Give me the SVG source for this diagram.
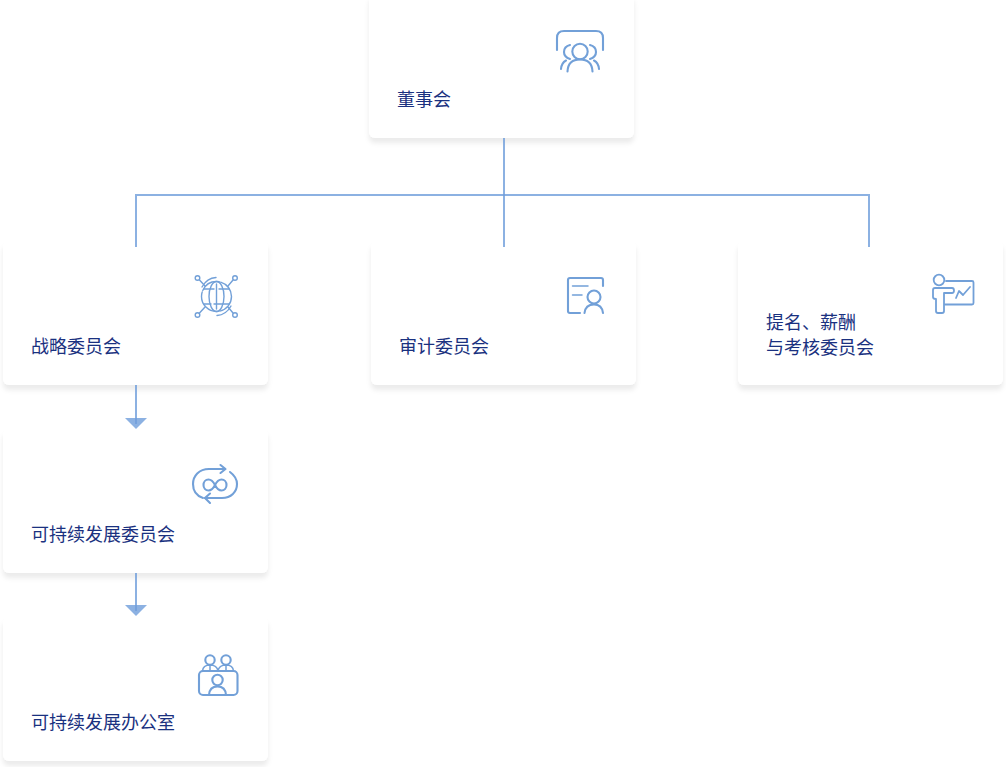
<svg xmlns="http://www.w3.org/2000/svg" width="1006" height="767" viewBox="0 0 1006 767">
<defs>
<filter id="sh" x="-10%" y="-15%" width="120%" height="130%"><feDropShadow dx="0" dy="5" stdDeviation="2.500" flood-color="#000" flood-opacity="0.08"/></filter>
</defs>
<style>
.card{fill:#fff;filter:url(#sh)}
.t{font-family:"Noto Sans CJK SC","Noto Sans",sans-serif;font-size:18px;fill:#1a3180}
.ic{fill:none;stroke:#72a0d8;stroke-width:2.100;stroke-linecap:round;stroke-linejoin:round}
.th{stroke-width:1.400}
.c{fill:none;stroke:#6f9edb;stroke-opacity:.8;stroke-width:2}
.a{fill:#6f9edb;fill-opacity:.8}
</style>
<rect width="1006" height="767" fill="#fff"/>
<g id="node-board">
<rect class="card" x="369" y="-6" width="265" height="144" rx="6"/>
<text class="t" x="397" y="106">董事会</text>
<g class="ic">
<path d="M557 50V38Q557 31 564 31H596Q603 31 603 38V50"/>
<circle cx="580" cy="51.500" r="7.700"/>
<path d="M567.500 71.500Q568 59.500 580 59.500Q592 59.500 592.500 71.500"/>
<path d="M570 45Q564 46.500 564 52Q564 57 570 59M590 45Q596 46.500 596 52Q596 57 590 59"/>
<path d="M561 69Q561.500 63 566 60.500M599 69Q598.500 63 594 60.500"/>
</g>
</g>
<g id="node-strategy">
<rect class="card" x="3" y="241" width="265" height="144" rx="6"/>
<text class="t" x="31" y="353">战略委员会</text>
<g class="ic th">
<circle cx="216.500" cy="296.500" r="15" stroke-dasharray="20 1.500 30 1.500"/>
<ellipse cx="216.500" cy="296.500" rx="7.500" ry="15"/>
<path d="M216.500 284V309M204 289H214M219 289H229M204 304H211M214 304H229"/>
<path d="M202 287Q207 278 216 277.500M231 306Q226 315 217 315.500"/>
<circle cx="197.500" cy="278" r="2.300"/><circle cx="235" cy="278" r="2.300"/><circle cx="197.500" cy="315" r="2.300"/><circle cx="235" cy="315" r="2.300"/>
<path d="M199.500 280L205 286M233 280L228 286M199.500 313L205 307M233 313L228 307"/>
</g>
</g>
<g id="node-audit">
<rect class="card" x="371" y="241" width="265" height="144" rx="6"/>
<text class="t" x="399" y="353">审计委员会</text>
<g class="ic">
<path d="M603 286V280Q603 278 601 278H570Q568 278 568 280V311Q568 313 570 313H580"/>
<path d="M572.500 286H588M572.500 295H582" stroke-width="1.500"/>
<circle cx="594" cy="297" r="6.500"/>
<path d="M584.500 313Q585.500 304.500 594 304.500Q602 304.500 603 313"/>
</g>
</g>
<g id="node-nomination">
<rect class="card" x="738" y="241" width="265" height="144" rx="6"/>
<text class="t" x="766" y="328.500">提名、薪酬</text>
<text class="t" x="766" y="354">与考核委员会</text>
<g class="ic" style="stroke-width:1.800">
<circle cx="939" cy="280" r="5.300"/>
<path d="M946 281H972Q973.500 281 973.500 282.500V303Q973.500 304.500 972 304.500H945"/>
<path d="M952 288H935Q933 288 933 290V297Q933 299 936 299V311Q936 313 938 313H942Q944 313 944 311V293H952Q954 293 954 290.500Q954 288 952 288Z"/>
<path d="M956 298L959 291L963 295L970 287"/>
</g>
</g>
<g id="node-sustain">
<rect class="card" x="3" y="429" width="265" height="144" rx="6"/>
<text class="t" x="31" y="541">可持续发展委员会</text>
<g class="ic">
<path d="M225 469H209C199 469 193 476 193 484C193 491 197 496 203 498"/>
<path d="M230 472C234 475 237 479 237 484C237 492 231 498 222 498H205"/>
<path d="M220.500 465L225.500 469L220.500 473"/>
<path d="M210 493.500L205 498L210 503"/>
<path d="M215 485C213 481 211 479.500 208.500 479.500C205.500 479.500 203.500 482 203.500 485C203.500 488 205.500 490.500 208.500 490.500C211 490.500 213 489 215 485C217 481 219 479.500 221.500 479.500C224.500 479.500 226.500 482 226.500 485C226.500 488 224.500 490.500 221.500 490.500C219 490.500 217 489 215 485Z"/>
</g>
</g>
<g id="node-office">
<rect class="card" x="3" y="617" width="265" height="144" rx="6"/>
<text class="t" x="31" y="729">可持续发展办公室</text>
<g class="ic">
<rect x="199" y="671" width="38.500" height="24" rx="4"/>
<circle cx="210" cy="660" r="4.700"/><circle cx="226" cy="660" r="4.700"/>
<path d="M202.500 671Q203 665 210 665Q217 665 218 671Q219 665 226 665Q233 665 233.500 671M210 665V670M226 665V670" stroke-width="1.500"/>
<circle cx="217.500" cy="680" r="5.200"/>
<path d="M209 695Q209.500 686.500 217.500 686.500Q225.500 686.500 226 695"/>
</g>
</g>
<g id="connectors">
<path class="c" d="M504 138V247"/>
<path class="c" d="M136 247V195H869V247"/>
<path class="c" d="M136 385V424M136 573V611"/>
<path class="a" d="M125 418H147L136 429Z"/>
<path class="a" d="M125 605H147L136 616Z"/>
</g>
</svg>
